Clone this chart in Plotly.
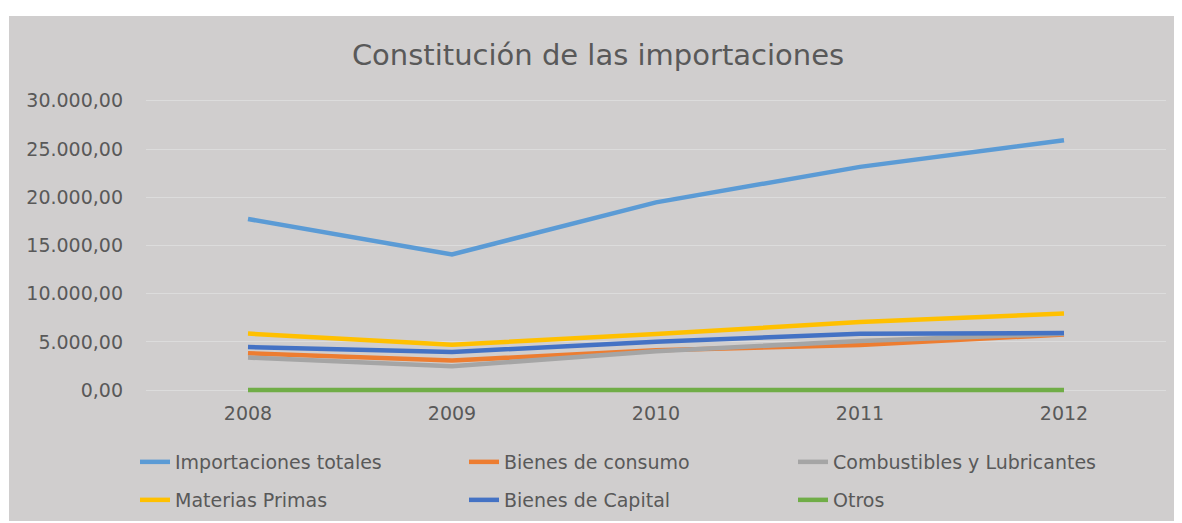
import plotly.graph_objects as go

years = ["2008", "2009", "2010", "2011", "2012"]
importaciones_totales = [17750, 14070, 19470, 23150, 25900]
bienes_consumo = [3830, 3070, 4150, 4680, 5780]
combustibles = [3380, 2480, 4050, 5100, 5860]
materias_primas = [5870, 4720, 5820, 7070, 7940]
bienes_capital = [4480, 3960, 5020, 5860, 5930]
otros = [15, 15, 15, 15, 15]

series_names = ["Importaciones totales", "Bienes de consumo", "Combustibles y Lubricantes",
                "Materias Primas", "Bienes de Capital", "Otros"]
series_values = [importaciones_totales, bienes_consumo, combustibles,
                 materias_primas, bienes_capital, otros]
colors = ["#5B9BD5", "#ED7D31", "#A5A5A5", "#FFC000", "#4472C4", "#70AD47"]
y_ticks = [0, 5000, 10000, 15000, 20000, 25000, 30000]
y_tick_text = ["0,00", "5.000,00", "10.000,00", "15.000,00", "20.000,00", "25.000,00", "30.000,00"]

FONT = "DejaVu Sans"
TXT = "#595959"
OFF = 8  # page body margin

fig = go.Figure()
for i, (name, vals, col) in enumerate(zip(series_names, series_values, colors)):
    fig.add_trace(go.Scatter(
        x=years, y=vals, name=name, mode="lines",
        line=dict(color=col, width=4.5),
        legend="legend" if i < 3 else "legend2",
    ))

W, H = 1182 - OFF, 523 - OFF
# screen coordinates of plot area
sl, sr, st, sb = 146, 1166, 95, 396
ml, mr, mt, mb = sl - OFF, W - (sr - OFF), st - OFF, H - (sb - OFF)
pw = W - ml - mr
ph = H - mt - mb

def px_x(p):
    return (p - sl) / pw

def px_y(p):
    return (sb - p) / ph

legend_common = dict(
    orientation="h", xanchor="left", yanchor="middle",
    xref="container", yref="container",
    font=dict(family=FONT, size=19, color=TXT),
    bgcolor="rgba(0,0,0,0)", entrywidth=284, entrywidthmode="pixels",
    traceorder="normal",
)

fig.update_layout(
    width=W, height=H,
    margin=dict(l=ml, r=mr, t=mt, b=mb, autoexpand=False),
    paper_bgcolor="white",
    plot_bgcolor="rgba(0,0,0,0)",
    title=dict(text="Constitución de las importaciones", xref="container",
               x=(598 - OFF) / W, xanchor="center",
               yref="container", y=1 - (55 - OFF) / H, yanchor="middle",
               font=dict(family=FONT, size=29, color=TXT)),
    font=dict(family=FONT, color=TXT),
    showlegend=True,
    legend=dict(x=(135 - OFF) / W, y=1 - (462 - OFF) / H, **legend_common),
    legend2=dict(x=(135 - OFF) / W, y=1 - (500 - OFF) / H, **legend_common),
    xaxis=dict(
        type="category", range=[-0.5, 4.5], showgrid=False, zeroline=False,
        showline=False, ticks="", tickfont=dict(family=FONT, size=19, color=TXT),
        ticklabelstandoff=4,
    ),
    yaxis=dict(
        range=[-600, 30600], tickvals=y_ticks, ticktext=y_tick_text,
        showgrid=True, gridcolor="#DCDCDC", gridwidth=1, zeroline=False,
        showline=False, ticks="", tickfont=dict(family=FONT, size=19, color=TXT),
        ticklabelstandoff=22,
    ),
    shapes=[dict(
        type="rect", xref="paper", yref="paper", layer="below",
        x0=px_x(9), x1=px_x(1190), y0=px_y(521), y1=px_y(16),
        fillcolor="#D0CECE", line=dict(width=0),
    )],
)

fig.write_html("out.html")
